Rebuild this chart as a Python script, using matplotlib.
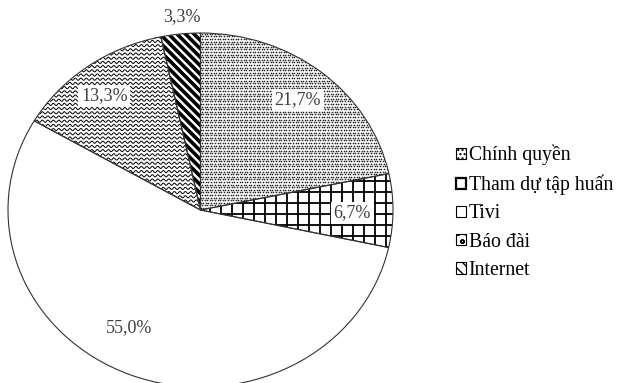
import matplotlib.pyplot as plt
import matplotlib.patches as mpatches
import numpy as np

plt.rcParams['font.family'] = ['Liberation Serif', 'DejaVu Serif']

labels = ["Chính quyền", "Tham dự tập huấn", "Tivi", "Báo đài", "Internet"]
values = [21.7, 6.7, 55.0, 13.3, 3.3]
pct_text = ["21,7%", "6,7%", "55,0%", "13,3%", "3,3%"]

# label positions in axes fraction
label_pos = [(0.753, 0.811), (0.894, 0.492), (0.314, 0.167), (0.25, 0.822), (0.451, 1.045)]

W, H = 620, 383
fig = plt.figure(figsize=(W / 100, H / 100), dpi=100)
# pie box in pixels: left 8, width 385, top 33, height 354
ax = fig.add_axes([8 / W, (H - 387) / H, 385 / W, 354 / H])
ax.axis("off")

wedges, _ = ax.pie(values, startangle=90, counterclock=False, radius=1,
                   colors=["white"] * 5,
                   wedgeprops=dict(edgecolor="#333333", linewidth=0.8))
ax.set_xlim(-1, 1)
ax.set_ylim(-1, 1)
ax.set_aspect("auto")

sx, sy = 2 / 385, 2 / 354  # data units per pixel


def clipped(xs, ys, wedge, lw, color="black"):
    ln, = ax.plot(xs, ys, color=color, lw=lw, solid_capstyle="butt")
    ln.set_clip_path(wedge)


# dots for Chính quyền
pts_x, pts_y = [], []
for j, py in enumerate(np.arange(-180, 180, 2.6)):
    off = 1.3 if j % 2 else 0
    for px in np.arange(-200 + off, 200, 2.6):
        pts_x.append(px * sx)
        pts_y.append(py * sy)
sc = ax.scatter(pts_x, pts_y, s=1.4, color="#222222", linewidths=0)
sc.set_clip_path(wedges[0])

# grid for Tham dự tập huấn
for px in np.arange(-200, 200, 11):
    clipped([px * sx, px * sx], [-1, 1], wedges[1], 1.3)
for py in np.arange(-180, 180, 11):
    clipped([-1, 1], [py * sy, py * sy], wedges[1], 1.3)

# waves for Báo đài
t = np.arange(-200, 200, 0.5)
for py in np.arange(-180, 180, 4.2):
    clipped(t * sx, (py + 1.1 * np.sin(t * 2 * np.pi / 5.5)) * sy, wedges[3], 0.7)

# thick diagonals for Internet
for c in np.arange(-400, 400, 8.5):
    clipped(np.array([-200, 200]) * sx, (np.array([200, -200]) + c) * sy, wedges[4], 2.6)

for w in wedges:
    w.set_zorder(3)
    w.set_facecolor("none")

for txt, (x, y) in zip(pct_text, label_pos):
    ax.text(x, y, txt, transform=ax.transAxes, ha="center", va="center",
            fontsize=13, color="#404040", zorder=5, clip_on=False,
            bbox=dict(boxstyle="square,pad=0.15", fc="white", ec="none")
            if txt != "55,0%" and txt != "3,3%" else None)

hatches = ["....", "", "", "oo", "\\\\\\"]
handles = []
for lab, h in zip(labels, hatches):
    p = mpatches.Patch(facecolor="white", edgecolor="black", hatch=h,
                       linewidth=0.8, label=lab)
    handles.append(p)
handles[1].set_linewidth(1.6)
leg = fig.legend(handles=handles, loc="upper left",
                 bbox_to_anchor=(448 / W, 1 - 137 / H), frameon=False,
                 fontsize=14.2, handlelength=0.5, handleheight=0.5,
                 handletextpad=0.15, labelspacing=0.47, borderaxespad=0)

fig.savefig("out.png", dpi=100)
